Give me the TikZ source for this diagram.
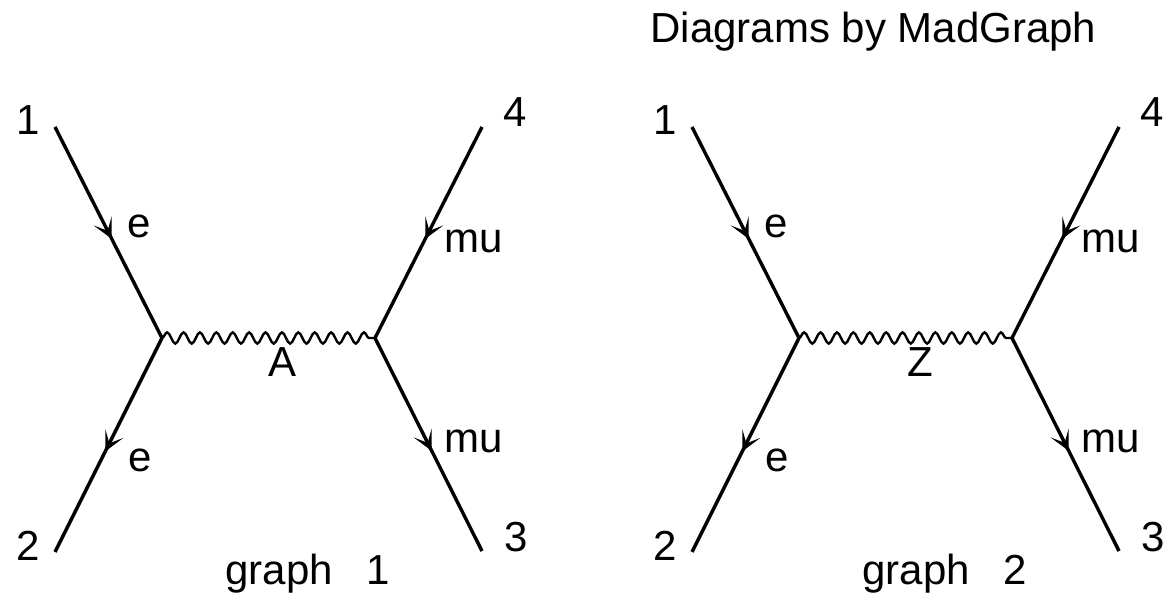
\documentclass[tikz,border=0pt]{standalone}
\usepackage{fontspec}
\setmainfont{Liberation Sans}
\usetikzlibrary{arrows.meta,decorations.pathmorphing,decorations.markings}

\begin{document}
\begin{tikzpicture}[x=0.5pt, y=-0.5pt,
  fermion/.style={line width=1.7pt, postaction={decorate},
    decoration={markings, mark=at position 0.53 with {\arrow{Stealth[length=10pt,width=10pt,inset=5.5pt]}}}},
  photon/.style={line width=1.2pt, decorate, decoration={snake, segment length=8.2pt, amplitude=2.8pt}},
  lbl/.style={anchor=base, inner sep=0pt, font=\fontsize{21}{25}\selectfont}]
  \useasboundingbox (0,0) rectangle (1167,603);

  % Title
  \node[lbl, anchor=base west] (title) at (650,43) {Diagrams by MadGraph};

  \foreach \dx/\boson/\n in {0/A/1, 637/Z/2} {
    % Vertices and external legs
    \coordinate (va\n) at (162+\dx,338);
    \coordinate (vb\n) at (375+\dx,338);
    \coordinate (p1\n) at (55+\dx,127);
    \coordinate (p2\n) at (55+\dx,552);
    \coordinate (p3\n) at (482+\dx,551);
    \coordinate (p4\n) at (482+\dx,127);

    % Fermion lines
    \draw[fermion] (p1\n) -- (va\n);
    \draw[fermion] (va\n) -- (p2\n);
    \draw[fermion] (p4\n) -- (vb\n);
    \draw[fermion] (vb\n) -- (p3\n);

    % Propagator
    \draw[photon] (va\n) -- (vb\n);

    % Labels
    \node[lbl] (l1\n) at (28+\dx,135) {1};
    \node[lbl] (l2\n) at (28+\dx,560) {2};
    \node[lbl] (l3\n) at (516+\dx,552) {3};
    \node[lbl] (l4\n) at (515+\dx,127) {4};
    \node[lbl] (ea\n) at (139+\dx,238) {e};
    \node[lbl] (eb\n) at (140+\dx,472) {e};
    \node[lbl] (mua\n) at (474+\dx,253) {mu};
    \node[lbl] (mub\n) at (474+\dx,453) {mu};
    \node[lbl] (bos\n) at (283+\dx,377) {\boson};
    \node[lbl, anchor=base west] (graph\n) at (225+\dx,585) {graph\hspace{0.8em}\n};
  }
\end{tikzpicture}
\end{document}
